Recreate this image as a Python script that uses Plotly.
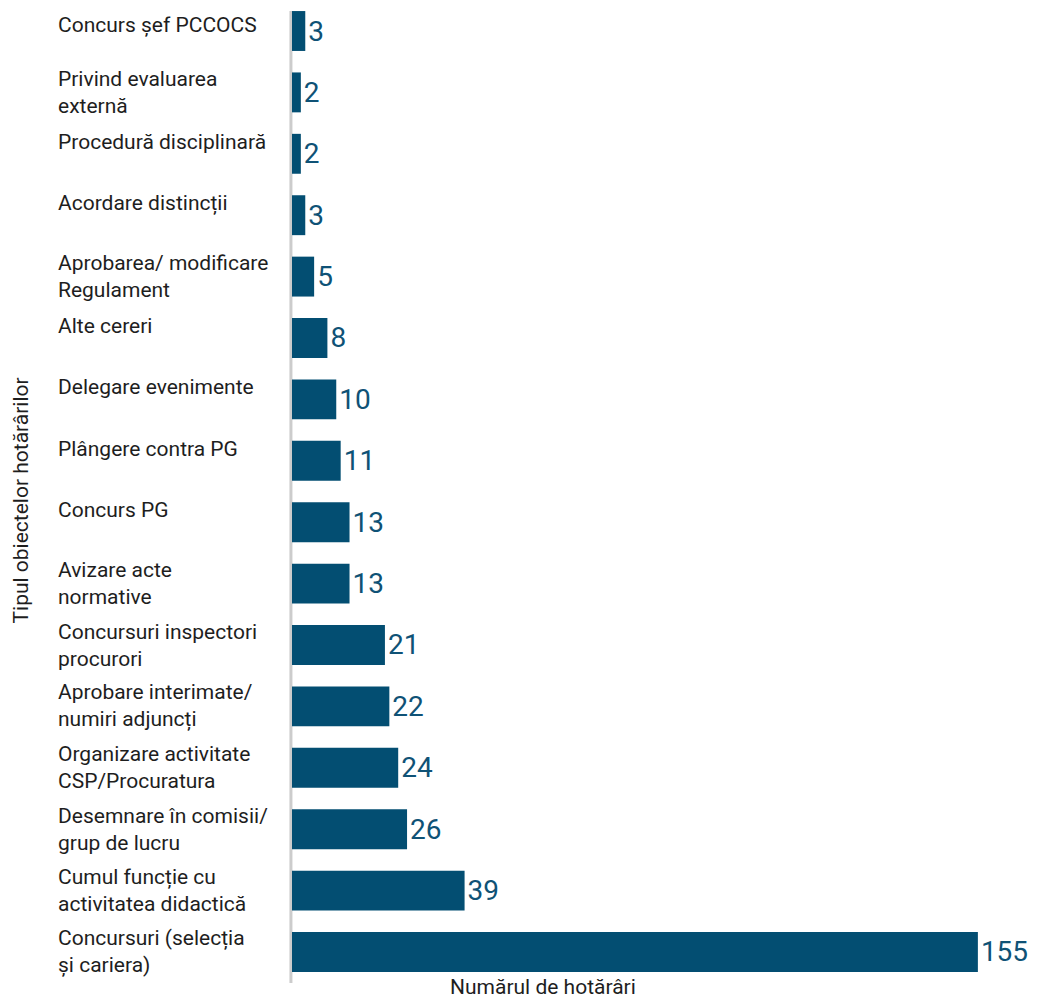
import plotly.graph_objects as go

categories = [
    "Concurs șef PCCOCS",
    "Privind evaluarea<br>externă",
    "Procedură disciplinară",
    "Acordare distincții",
    "Aprobarea/ modificare<br>Regulament",
    "Alte cereri",
    "Delegare evenimente",
    "Plângere contra PG",
    "Concurs PG",
    "Avizare acte<br>normative",
    "Concursuri inspectori<br>procurori",
    "Aprobare interimate/<br>numiri adjuncți",
    "Organizare activitate<br>CSP/Procuratura",
    "Desemnare în comisii/<br>grup de lucru",
    "Cumul funcție cu<br>activitatea didactică",
    "Concursuri (selecția<br>și cariera)",
]
values = [3, 2, 2, 3, 5, 8, 10, 11, 13, 13, 21, 22, 24, 26, 39, 155]
value_labels = [str(v) for v in values]

x_title = "Numărul de hotărâri"
y_title = "Tipul obiectelor hotărârilor"

BAR = "#034e72"
TXT = "#0f5276"
LBL = "#1e1e1e"
FONT = "Roboto"

ids = list(range(len(categories)))

fig = go.Figure()
fig.add_trace(go.Bar(
    y=ids, x=values, orientation="h",
    marker=dict(color=BAR, line=dict(width=0)),
    text=value_labels, textposition="outside",
    textfont=dict(family=FONT, size=28, color=TXT),
    cliponaxis=False, hoverinfo="skip",
))

annotations = []
for i, c in enumerate(categories):
    two = "<br>" in c
    shift = 0 if two else (6 if i == 0 else 12)
    annotations.append(dict(
        x=0, xref="paper", xshift=-236, xanchor="left",
        y=i, yref="y", yanchor="middle", yshift=shift,
        text=c, align="left", showarrow=False,
        font=dict(family=FONT, size=21, color=LBL),
    ))
annotations.append(dict(
    x=0, xref="paper", xshift=-272, xanchor="center",
    y=0.5, yref="paper", yshift=-5, yanchor="middle",
    text=y_title, textangle=-90, showarrow=False,
    font=dict(family=FONT, size=21, color=LBL),
))
annotations.append(dict(
    x=0.3545, xref="paper", xanchor="center",
    y=0, yref="paper", yanchor="middle", yshift=-4,
    text=x_title, showarrow=False,
    font=dict(family=FONT, size=21, color=LBL),
))

fig.update_layout(
    width=1029, height=990,
    margin=dict(l=284, r=37, t=0, b=15),
    paper_bgcolor="white", plot_bgcolor="white",
    bargap=0.35,
    showlegend=False,
    xaxis=dict(range=[0, 160], visible=False, fixedrange=True),
    yaxis=dict(range=[15.505, -0.3746], visible=False, fixedrange=True),
    annotations=annotations,
    shapes=[dict(type="line", xref="paper", yref="paper",
                 x0=-0.0015, x1=-0.0015, y0=0, y1=0.997,
                 line=dict(color="#cccccc", width=3), layer="below")],
    font=dict(family=FONT),
)

fig.write_html("out.html")
